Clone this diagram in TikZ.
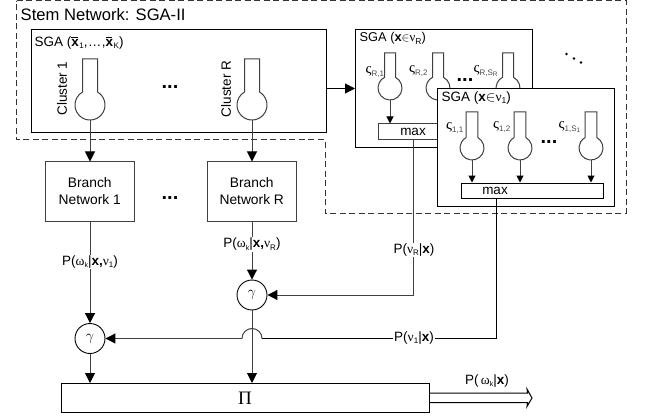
\documentclass[tikz,border=0pt]{standalone}
\usepackage{fontspec}
\setmainfont{Liberation Sans}
\newfontfamily\grk{Liberation Serif}
\usetikzlibrary{arrows.meta}
\newcommand{\gk}[1]{{\grk #1}}
\newcommand{\vs}{{\grk\fontsize{15}{15}\selectfont ς}}
\newcommand{\bx}{\textbf{x}}
\newcommand{\xbar}{\leavevmode\rlap{\raisebox{8.4pt}{\rule{6.5pt}{0.9pt}}}\textbf{x}}
\newcommand{\sbs}[1]{\raisebox{-2.5pt}{\fontsize{8.5}{9}\selectfont #1}}
\newcommand{\ssb}[1]{\raisebox{-2.5pt}{\color{black!70}\fontsize{8}{9}\selectfont #1}}
\newcommand{\thermo}[6]{% name, cx, cy, r, halfwidth, top
  \pgfmathsetmacro{\ang}{acos(#5/#4)}
  \pgfmathsetmacro{\ys}{#3-#4*sin(\ang)}
  \node[inner sep=0pt,minimum size=#4*2pt,circle] (#1) at (#2,#3) {};
  \draw[wire,fill=white] (#2-#5,\ys) -- (#2-#5,#6) -- (#2+#5,#6) -- (#2+#5,\ys)
    arc[start angle=-\ang,end angle=180+\ang,radius=#4];
}
\tikzset{
  x=1pt,y=-1pt,
  wire/.style={draw=black!75,line width=1pt},
  arrowline/.style={wire,-{Triangle[width=10pt,length=10pt,color=black]}},
  smallarrow/.style={wire,-{Triangle[width=7pt,length=7pt,color=black]}},
  box/.style={draw=black,line width=1pt,fill=white,inner sep=0pt},
  branchbox/.style={draw=black!75,line width=1pt,fill=white,minimum width=88.5pt,minimum height=59pt,inner sep=0pt,align=center,font=\fontsize{13.8}{17}\selectfont},
  gammanode/.style={circle,draw=black,line width=0.9pt,fill=white,minimum size=30pt,inner sep=0pt,font=\fontsize{15}{15}\selectfont},
  lab/.style={fill=white,inner sep=1pt,font=\fontsize{13.5}{15}\selectfont},
  tlab/.style={inner sep=0pt,anchor=west,font=\fontsize{13.5}{15}\selectfont},
  dotsn/.style={inner sep=0pt,anchor=base,font=\bfseries\fontsize{20}{20}\selectfont},
  varlab/.style={inner sep=0pt,font=\fontsize{13.5}{15}\selectfont},
  siglab/.style={inner sep=0pt,anchor=base west,font=\fontsize{13.5}{15}\selectfont},
}
\begin{document}
\begin{tikzpicture}
\useasboundingbox (0,0) rectangle (648,417);
% stem outline
\draw[black!80,line width=1pt,dash pattern=on 6pt off 3.5pt] (16.5,0.7) -- (626,0.7) -- (626,213) -- (325,213) -- (325,140) -- (16.5,140) -- cycle;
\node[tlab,font=\fontsize{16.6}{18}\selectfont] (stemlab) at (20.5,15) {Stem Network: SGA-II};
% main SGA
\node[box,anchor=north west,minimum width=294.5pt,minimum height=103pt] (sga) at (31,29.5) {};
\node[tlab] (sgalab) at (34.5,43) {SGA (\xbar\kern0.5pt\sbs{\fontsize{8}{8}\selectfont 1},\kern1pt.\kern0.5pt.\kern0.5pt.\kern1pt,\xbar\kern0.5pt\sbs{\fontsize{8}{8}\selectfont K})};
\thermo{c1}{90}{105}{15}{7.5}{59}
\thermo{cR}{252}{105}{15}{7.5}{59}
\node[varlab,rotate=90] (c1lab) at (62,88.5) {Cluster 1};
\node[varlab,rotate=90] (cRlab) at (226,89) {Cluster R};
\node[dotsn] (dots1) at (170,88.5) {...};
% SGA R
\node[box,anchor=north west,minimum width=176.5pt,minimum height=117.5pt] (sgaR) at (355,29.5) {};
\node[tlab,font=\fontsize{12.8}{15}\selectfont] (sgaRlab) at (359.5,38.5) {SGA (\bx$\in$\gk{ν}\sbs{R})};
\thermo{tR1}{390}{88}{12}{5.5}{53}
\thermo{tR2}{438}{88}{12}{5.5}{53}
\thermo{tR3}{508}{88}{12}{5.5}{53}
\node[siglab] (lR1) at (365.5,74) {\vs\ssb{R,1}};
\node[siglab] (lR2) at (409,73) {\vs\ssb{R,2}};
\node[siglab] (lR3) at (473.5,73) {\vs\ssb{R,S\raisebox{-1.5pt}{\fontsize{6.5}{7}\selectfont R}}};
\node[dotsn] (dots2) at (465,81.5) {...};
\node[box,draw=black!75,anchor=north west,minimum width=60pt,minimum height=15.5pt] (maxR) at (378,123.5) {};
\node[varlab] at (413,132) {max};
\draw[smallarrow] (tR1.south) -- (tR1.south |- maxR.north);
% SGA 1
\node[box,anchor=north west,minimum width=177pt,minimum height=117.5pt] (sga1) at (437,88.5) {};
\node[tlab,font=\fontsize{13.5}{15}\selectfont] (sga1lab) at (441.5,98) {SGA (\bx$\in$\gk{ν}\sbs{1})};
\thermo{t11}{472}{148}{12}{5.8}{112}
\thermo{t12}{520}{148}{12}{5.8}{112}
\thermo{t13}{591}{148}{12}{5.8}{112}
\node[siglab] (l11) at (446,130) {\vs\ssb{1,1}};
\node[siglab] (l12) at (493,129) {\vs\ssb{1,2}};
\node[siglab] (l13) at (558.5,129) {\vs\ssb{1,S\raisebox{-1.5pt}{\fontsize{6.5}{7}\selectfont 1}}};
\node[dotsn] (dots3) at (549,143) {...};
\node[box,anchor=north west,minimum width=141.5pt,minimum height=15.5pt] (max1) at (461,182.5) {};
\node[varlab] at (495,190.5) {max};
\draw[smallarrow] (t11.south) -- (t11.south |- max1.north);
\draw[smallarrow] (t12.south) -- (t12.south |- max1.north);
\draw[smallarrow] (t13.south) -- (t13.south |- max1.north);
% diagonal dots
\node[inner sep=0pt,fill=black,circle,minimum size=2.6pt] (d1) at (566.5,54) {};
\node[inner sep=0pt,fill=black,circle,minimum size=2.6pt] (d2) at (574,58.5) {};
\node[inner sep=0pt,fill=black,circle,minimum size=2.6pt] (d3) at (581,62.5) {};
% link SGA to SGA R
\draw[wire,draw=black,-{Triangle[width=10pt,length=10pt,color=black]}] (sga.east |- 0,88.5) -- (sgaR.west |- 0,88.5);
% branches
\node[branchbox] (b1) at (89.75,191.5) {Branch\\Network 1};
\node[branchbox] (bR) at (251.75,191.5) {Branch\\Network R};
\node[dotsn] (dots4) at (170,200) {...};
\draw[arrowline] (c1.south) -- (c1.south |- b1.north);
\draw[arrowline] (cR.south) -- (cR.south |- bR.north);
% gamma + product
\node[gammanode] (g1) at (90,338.5) {$\gamma$};
\node[gammanode] (gR) at (252,295) {$\gamma$};
\node[box,anchor=north west,minimum width=368pt,minimum height=29pt] (pi) at (60.5,383) {};
\node[inner sep=0pt,font=\grk\fontsize{19}{19}\selectfont] (pilab) at (245,398) {Π};
\draw[arrowline] (b1.south -| g1) -- (g1.north);
\draw[arrowline] (bR.south -| gR) -- (gR.north);
\draw[arrowline] (g1.south) -- (g1.south |- pi.north);
\draw[arrowline] (gR.south) -- (gR.south |- pi.north);
\node[lab] (pk1) at (90,262) {P(\gk{ω}\sbs{\fontsize{7}{8}\selectfont k}|\textbf{x,}\gk{ν}\sbs{\fontsize{8}{8}\selectfont 1})};
\node[lab] (pkR) at (252,244.5) {P(\gk{ω}\sbs{\fontsize{7}{8}\selectfont k}|\textbf{x,}\gk{ν}\sbs{\fontsize{8}{8}\selectfont R})};
% feedback lines
\coordinate (bendR) at (413.5,295);
\coordinate (bend1) at (496.5,338.5);
\coordinate (bumpa) at (262,338.5);
\coordinate (bumpb) at (242,338.5);
\draw[arrowline] (maxR.south -| bendR) -- (bendR) -- (gR.east);
\draw[wire,draw=black] (max1.south -| bend1) -- (bend1) -- (bumpa);
\draw[wire] (bumpa) arc[start angle=0,end angle=-180,radius=10];
\draw[arrowline] (bumpb) -- (g1.east);
\node[lab] (pvR) at (414,250) {P(\gk{ν}\sbs{\fontsize{8}{8}\selectfont R}|\bx)};
\node[lab] (pv1) at (414,338) {P(\gk{ν}\sbs{\fontsize{8}{8}\selectfont 1}|\bx)};
% output
\coordinate (outtip) at (532,398);
\draw[wire,draw=black] ([yshift=5pt]pi.east) -- (527.5,393) -- (527,389) -- (outtip) -- (527,406.5) -- (527.5,402.5) -- ([yshift=-4.5pt]pi.east);
\node[lab,fill=none] (pout) at (487,381) {P(\,\gk{ω}\sbs{\fontsize{7}{8}\selectfont k}|\bx)};
\end{tikzpicture}
\end{document}
